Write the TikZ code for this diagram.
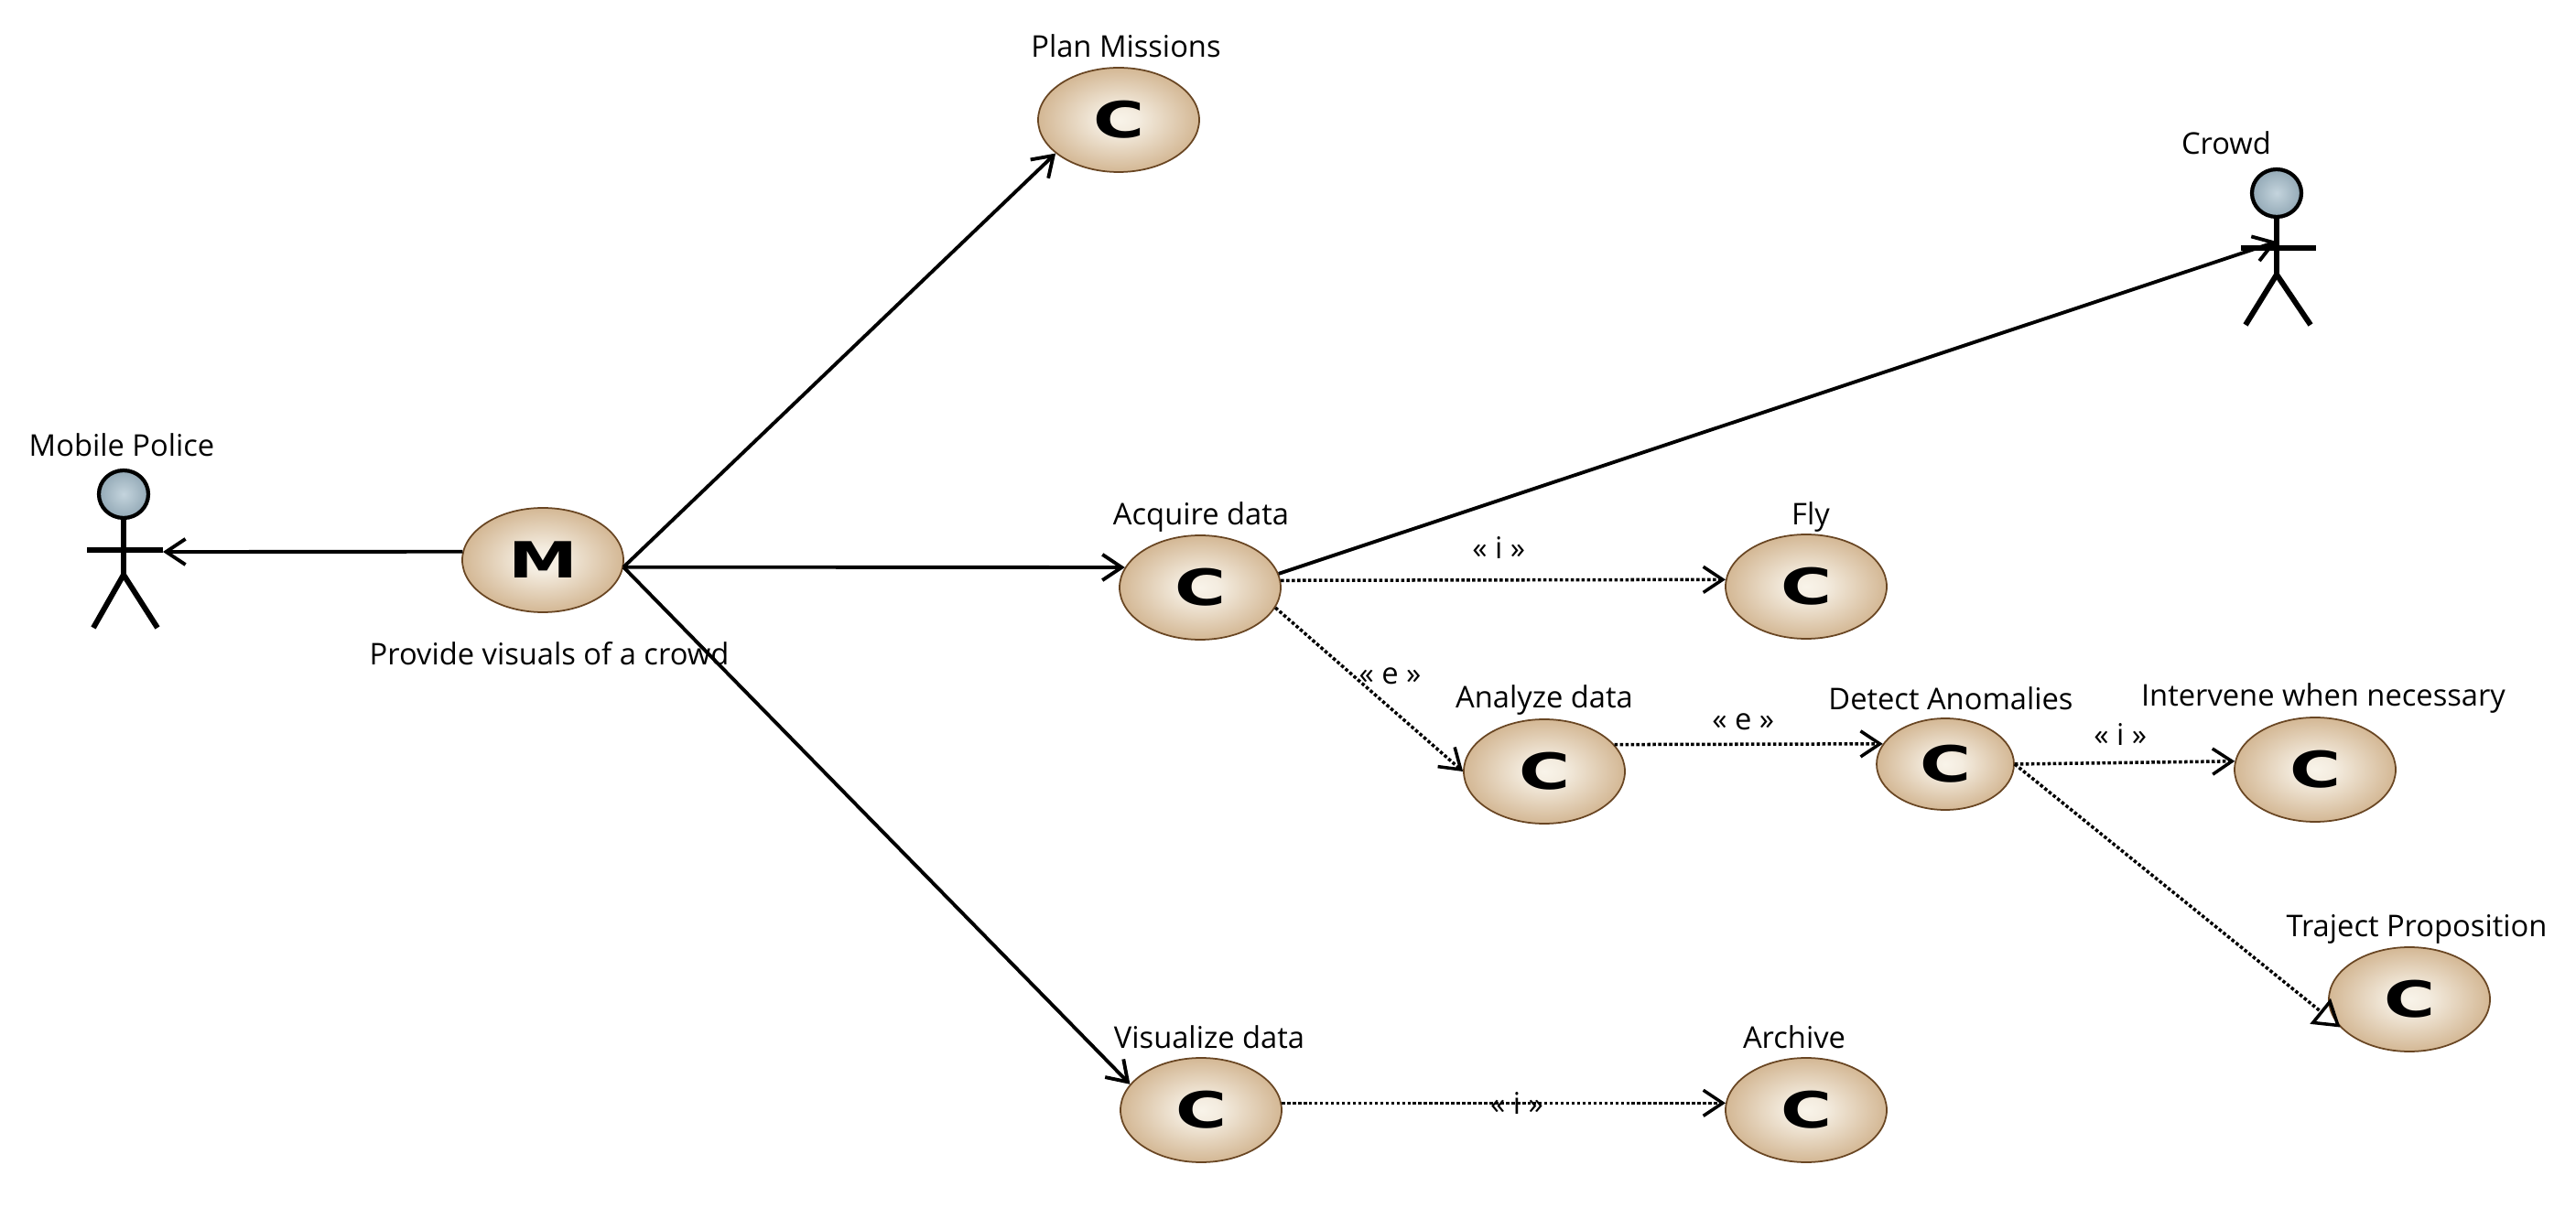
\documentclass[tikz,border=0pt]{standalone}
\usepackage{fontspec}
\setmainfont{Open Sans}
\newfontfamily\glyphfont{DejaVu Sans}[FakeStretch=1.4]
\usetikzlibrary{shapes.geometric,arrows.meta}
\definecolor{headlight}{HTML}{C4D4DD}
\definecolor{headdark}{HTML}{93A9B6}
\pgfdeclareradialshading{tanglow}{\pgfpointorigin}{
  rgb(0bp)=(0.975,0.955,0.915);
  rgb(6bp)=(0.955,0.925,0.875);
  rgb(31bp)=(0.79,0.655,0.49);
  rgb(50bp)=(0.775,0.64,0.485)}
\begin{document}
\begin{tikzpicture}[
usecase/.style={
  ellipse,
  draw=black!45!brown,
  line width=0.5pt,
  shading=tanglow,
  minimum width=1.76cm,
  minimum height=1.14cm,
  inner sep=0pt,
  font=\glyphfont\bfseries\fontsize{15.5}{15.5}\selectfont
},
head/.style={
  ellipse,
  draw=black,
  line width=1.2pt,
  inner color=headlight,
  outer color=headdark,
  minimum width=0.54cm,
  minimum height=0.52cm,
  inner sep=0pt
},
limb/.style={line width=1.7pt},
caption/.style={black,font=\fontsize{9.3}{11}\selectfont,inner sep=0pt},
edgenote/.style={black,font=\fontsize{9.3}{11}\selectfont,inner sep=0pt},
assoc/.style={-{Straight Barb[length=6pt,width=8pt]},line width=1.1pt},
dep/.style={-{Straight Barb[length=6pt,width=8pt]},line width=1pt,dash pattern=on 1pt off 0.7pt},
special/.style={-{Triangle[open,length=8pt,width=10pt]},line width=1pt,dash pattern=on 1pt off 0.7pt}
]

\useasboundingbox (0,0) rectangle (28.14,-13.2);

\node (mission) at (5.93,-6.12) [usecase] {M};
\node (plan) at (12.22,-1.31) [usecase] {C};
\node (acquire) at (13.11,-6.42) [usecase] {C};
\node (fly) at (19.73,-6.41) [usecase] {C};
\node (analyze) at (16.87,-8.43) [usecase] {C};
\node (detect) at (21.25,-8.35) [usecase,minimum width=1.5cm,minimum height=1cm] {C};
\node (intervene) at (25.29,-8.41) [usecase] {C};
\node (traject) at (26.32,-10.92) [usecase] {C};
\node (visualize) at (13.12,-12.13) [usecase] {C};
\node (archive) at (19.73,-12.13) [usecase] {C};

\node (missionlabel) at (6.00,-7.14) [caption] {Provide visuals of a crowd};
\node (planlabel) at (12.30,-0.50) [caption] {Plan Missions};
\node (acquirelabel) at (13.12,-5.65) [caption] {Acquire data};
\node (flylabel) at (19.78,-5.65) [caption] {Fly};
\node (analyzelabel) at (16.87,-7.65) [caption] {Analyze data};
\node (detectlabel) at (21.31,-7.63) [caption] {Detect Anomalies};
\node (intervenelabel) at (25.38,-7.63) [caption] {Intervene when necessary};
\node (trajectlabel) at (26.40,-10.15) [caption] {Traject Proposition};
\node (visualizelabel) at (13.21,-11.33) [caption] {Visualize data};
\node (archivelabel) at (19.60,-11.33) [caption] {Archive};
\node (policelabel) at (1.33,-4.86) [caption] {Mobile Police};
\node (crowdlabel) at (24.32,-1.56) [caption] {Crowd};

\node (policehead) at (1.35,-5.40) [head] {};
\coordinate (policehip) at (1.35,-6.28);
\coordinate (policehand) at (1.78,-6.03);
\coordinate (policearm) at (0.95,-6.01);
\coordinate (policearmr) at (1.78,-6.01);
\coordinate (policefootl) at (1.02,-6.86);
\coordinate (policefootr) at (1.72,-6.86);
\draw [limb] (policehead) -- (policehip);
\draw [limb] (policearm) -- (policearmr);
\draw [limb] (policefootl) -- (policehip) -- (policefootr);

\node (crowdhead) at (24.87,-2.11) [head] {};
\coordinate (crowdhip) at (24.87,-3.00);
\coordinate (crowdhand) at (24.87,-2.64);
\coordinate (crowdarm) at (24.48,-2.71);
\coordinate (crowdarmr) at (25.30,-2.71);
\coordinate (crowdfootl) at (24.53,-3.55);
\coordinate (crowdfootr) at (25.24,-3.55);
\draw [limb] (crowdhead) -- (crowdhip);
\draw [limb] (crowdarm) -- (crowdarmr);
\draw [limb] (crowdfootl) -- (crowdhip) -- (crowdfootr);

\draw [assoc] (mission.174) -- (policehand);
\draw [assoc] (mission.-5) -- (plan.208);
\draw [assoc] (mission.-5) -- (acquire.165);
\draw [assoc] (mission.-5) -- (visualize.160);
\draw [assoc] (acquire.10) -- (crowdhand);

\draw [dep] (acquire.5) to node (ifly) [edgenote,pos=0.49,above=6pt] {« i »} (fly.175);
\draw [dep] (acquire.-15) to node (eanalyze) [edgenote,pos=0.42,right=1pt] {« e »} (analyze.west);
\draw [dep] (analyze.21) to node (edetect) [edgenote,pos=0.48,above=4pt] {« e »} (detect.162);
\draw [dep] (detect.east) to node (iintervene) [edgenote,pos=0.48,above=5pt] {« i »} (intervene.174);
\draw [special] (detect.east) to (traject.202);
\draw [dep] (visualize.5) to node (iarchive) [edgenote,pos=0.53] {« i »} (archive.175);

\end{tikzpicture}
\end{document}
